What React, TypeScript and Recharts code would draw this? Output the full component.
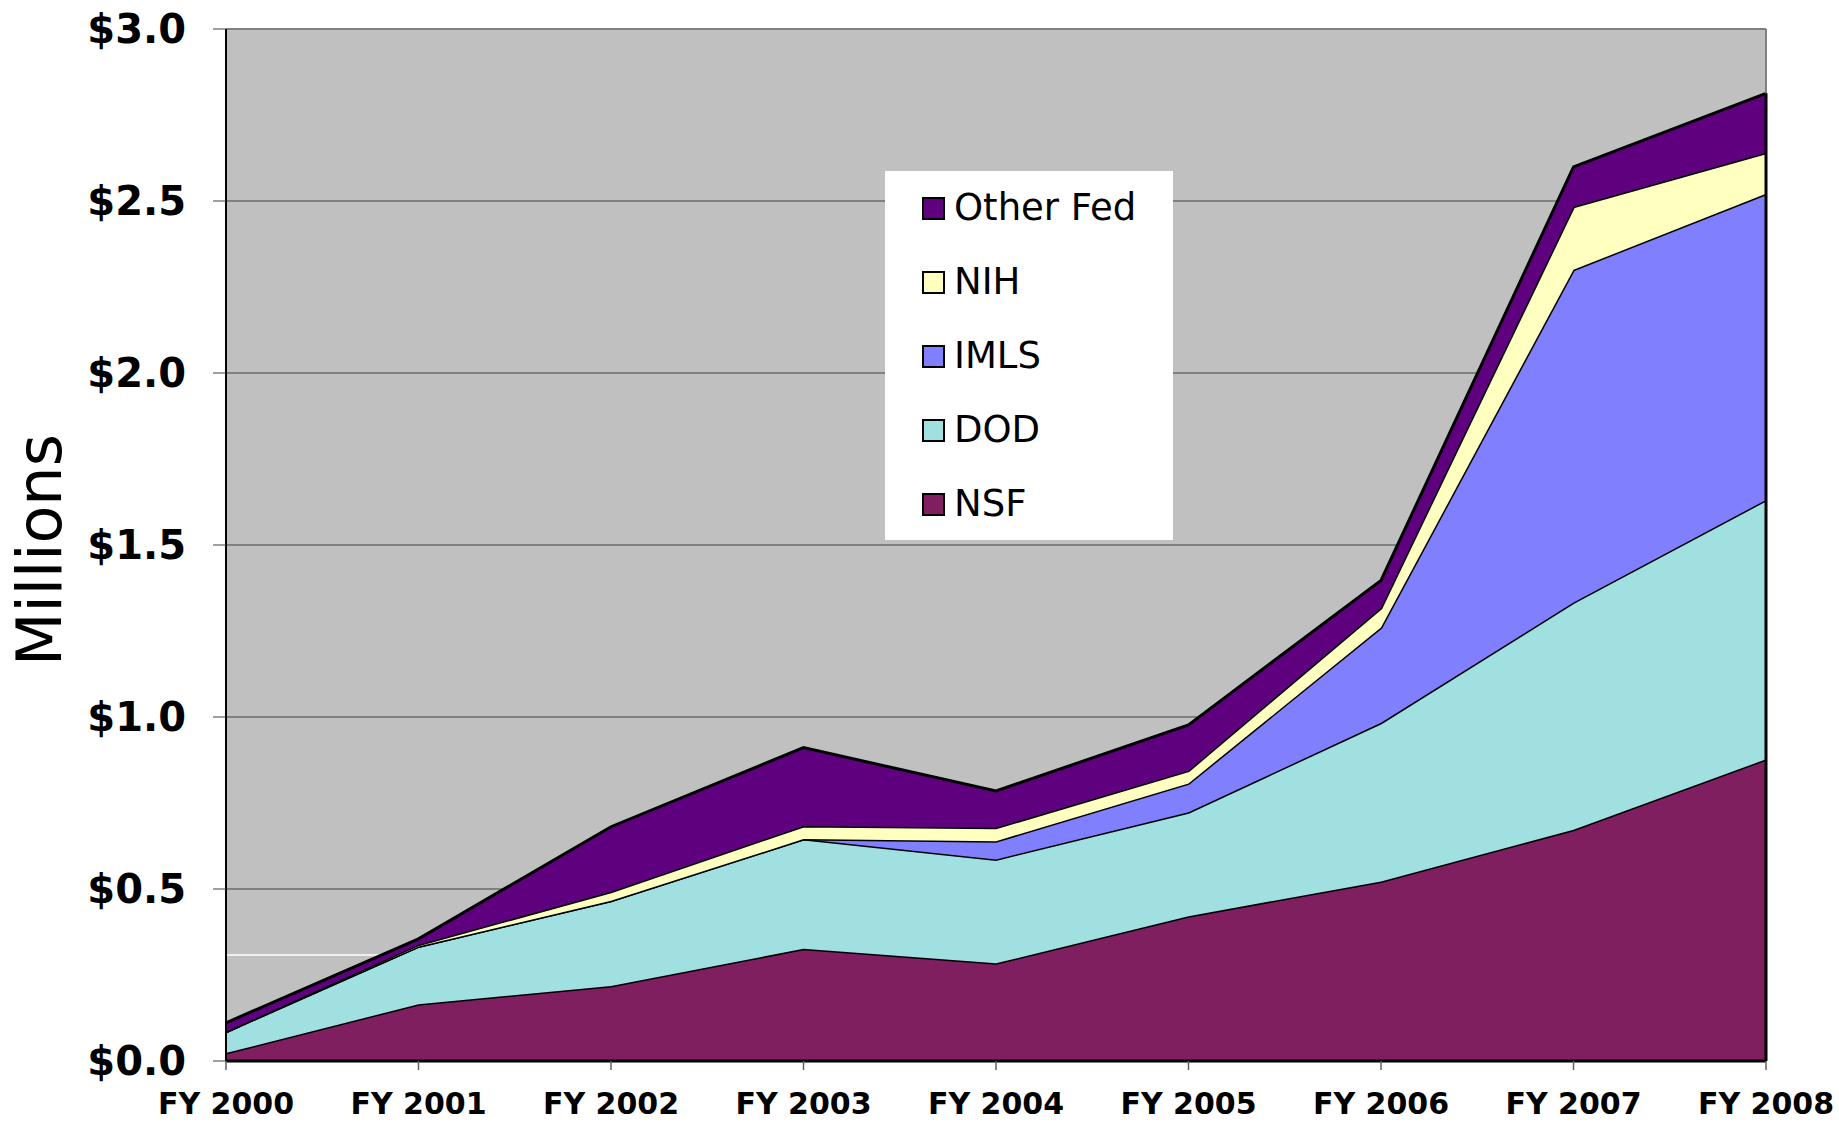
import React from "react";
import {
  AreaChart,
  Area,
  XAxis,
  YAxis,
  CartesianGrid,
  Legend,
  ReferenceLine,
} from "recharts";

const years = ["FY 2000", "FY 2001", "FY 2002", "FY 2003", "FY 2004", "FY 2005", "FY 2006", "FY 2007", "FY 2008"];

// funding in $ millions
const nsf = [0.023, 0.165, 0.218, 0.326, 0.284, 0.421, 0.522, 0.672, 0.877];
const dod = [0.062, 0.168, 0.248, 0.319, 0.302, 0.302, 0.461, 0.661, 0.754];
const imls = [0, 0, 0, 0, 0.053, 0.084, 0.277, 0.967, 0.89];
const nih = [0, 0.005, 0.026, 0.038, 0.039, 0.037, 0.057, 0.183, 0.119];
const otherFed = [0.026, 0.017, 0.189, 0.228, 0.107, 0.133, 0.08, 0.116, 0.173];

const yTicks = [0, 0.5, 1, 1.5, 2, 2.5, 3];

const series = [
  { key: "NSF", values: nsf, color: "#7F1F5F" },
  { key: "DOD", values: dod, color: "#A0E0E0" },
  { key: "IMLS", values: imls, color: "#8080FF" },
  { key: "NIH", values: nih, color: "#FFFFC0" },
  { key: "Other Fed", values: otherFed, color: "#5F007F" },
];

const data = years.map((year, i) => {
  const row: Record<string, number | string> = { year };
  series.forEach((s) => {
    row[s.key] = s.values[i];
  });
  return row;
});

const last = years.length - 1;
const lastTotal = series.reduce((sum, s) => sum + s.values[last], 0);

const FONT = "'DejaVu Sans', Verdana, sans-serif";

const LegendBox = () => (
  <div
    style={{
      width: 288,
      height: 369,
      background: "#fff",
      fontFamily: FONT,
      position: "relative",
    }}
  >
    {[...series].reverse().map((s, i) => (
      <div
        key={s.key}
        style={{
          position: "absolute",
          left: 37,
          top: 37 + i * 74 - 22,
          height: 44,
          display: "flex",
          alignItems: "center",
        }}
      >
        <span
          style={{
            width: 19,
            height: 19,
            background: s.color,
            border: "2px solid #000",
            display: "inline-block",
            marginRight: 9,
          }}
        />
        <span style={{ fontSize: 37, color: "#000", lineHeight: "44px" }}>{s.key}</span>
      </div>
    ))}
  </div>
);

const MillionsLabel = () => (
  <text
    x={61}
    y={550}
    transform="rotate(-90, 61, 550)"
    textAnchor="middle"
    fontSize={62}
    fontFamily={FONT}
    fill="#000"
  >
    Millions
  </text>
);

export default function App() {
  return (
    <div style={{ position: "absolute", left: 0, top: 0, background: "#fff" }}>
      <AreaChart
        width={1839}
        height={1123}
        data={data}
        margin={{ top: 29, right: 73, bottom: 0, left: 0 }}
      >
        <CartesianGrid
          vertical={false}
          stroke="#404040"
          strokeWidth={1}
          fill="#C0C0C0"
          fillOpacity={1}
        />
        <ReferenceLine
          segment={[
            { x: years[0], y: 0.308 },
            { x: years[1], y: 0.308 },
          ]}
          stroke="#fff"
          strokeWidth={1.5}
          zIndex={50}
        />
        <XAxis
          dataKey="year"
          interval={0}
          height={62}
          tickSize={9}
          tickMargin={23}
          axisLine={{ stroke: "#000", strokeWidth: 3 }}
          tickLine={{ stroke: "#606060", strokeWidth: 1.5 }}
          tick={{ fontSize: 30, fontWeight: "bold", fill: "#000", fontFamily: FONT }}
        />
        <YAxis
          width={226}
          domain={[0, 3]}
          ticks={yTicks}
          interval={0}
          tickSize={13}
          tickMargin={27}
          tickFormatter={(v: number) => `$${v.toFixed(1)}`}
          axisLine={{ stroke: "#000", strokeWidth: 2 }}
          tickLine={{ stroke: "#404040", strokeWidth: 1 }}
          tick={{ fontSize: 40, fontWeight: "bold", fill: "#000", fontFamily: FONT }}
          label={{ content: () => <MillionsLabel /> }}
        />
        {series.map((s) => (
          <Area
            key={s.key}
            type="linear"
            dataKey={s.key}
            name={s.key}
            stackId="funding"
            stroke="#000"
            strokeWidth={3}
            fill={s.color}
            fillOpacity={1}
            dot={false}
            activeDot={false}
            isAnimationActive={false}
          />
        ))}
        <ReferenceLine y={3} stroke="#808080" strokeWidth={2} />
        <ReferenceLine x={years[last]} stroke="#808080" strokeWidth={2} />
        <ReferenceLine
          segment={[
            { x: years[last], y: 0 },
            { x: years[last], y: lastTotal },
          ]}
          stroke="#000"
          strokeWidth={3}
        />
        <Legend
          layout="vertical"
          align="center"
          verticalAlign="middle"
          wrapperStyle={{ left: 885, top: 171, width: 288, height: 369 }}
          content={() => <LegendBox />}
        />
      </AreaChart>
    </div>
  );
}
